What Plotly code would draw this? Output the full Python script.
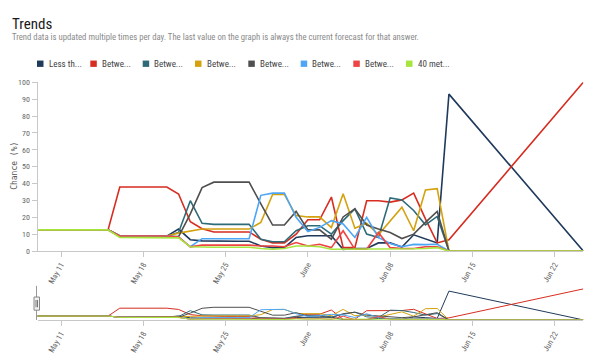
import pandas as pd
import plotly.graph_objects as go

# ---- data ----
dates = [d.strftime("%Y-%m-%d") for d in pd.date_range("2020-05-09", "2020-06-13", freq="D")] + ["2020-06-24 10:19"]

series_names = ["Less th...", "Betwe...", "Betwe...", "Betwe...", "Betwe...", "Betwe...", "Betwe...", "40 met..."]
series_colors = ["#203a5c", "#d62d20", "#2e6b78", "#d4a20e", "#4f4f4f", "#4da6f5", "#ee4444", "#a6e63c"]

navy = [12.5]*7 + [8.85]*5 + [13, 6.7, 6, 5.8, 5.8, 5.8, 5.8, 3, 2, 2, 8, 9, 9, 9, 1, 1.5, 1.5, 4.8, 4.8, 2.3, 9.6, 7.4, 4.8, 93, 0]
red = [12.5]*7 + [37.9]*5 + [33.8, 17.3, 13.2, 11.3, 11.3, 11.3, 11.3, 7, 4.8, 4.8, 10, 18.5, 18.5, 32, 2, 2, 29.8, 29.8, 29, 30.3, 34.3, 19, 4.8, 6.7, 100]
teal = [12.5]*7 + [8.85]*5 + [11, 29.8, 16.4, 15.8, 15.8, 15.8, 15.8, 7, 5.5, 5.5, 12, 15, 15, 10, 18, 25, 10, 8, 31.5, 30.3, 24, 15.5, 20.5, 0, 0]
gold = [12.5]*7 + [8.85]*5 + [10.6, 11.6, 13, 13, 13, 13, 13, 17, 33.5, 33.5, 21, 20.2, 20.2, 13.9, 34, 13.5, 16.5, 9.6, 18, 26, 12, 36.2, 37, 0, 0]
grey = [12.5]*7 + [8.85]*5 + [8.5, 22, 37.6, 40.8, 40.8, 40.8, 40.8, 28, 15.4, 15.4, 23.5, 12.5, 12.5, 7, 20.2, 25, 15.4, 13, 11, 7.4, 10, 17, 23.5, 0, 0]
blue = [12.5]*7 + [8.85]*5 + [8.3, 2.5, 7.3, 7.3, 7.3, 7.3, 7.3, 33, 34.3, 34.3, 20, 11.5, 14, 18, 16, 8, 20, 8, 4.4, 2.5, 3.9, 3.8, 4, 0, 0]
red2 = [12.5]*7 + [8.85]*5 + [8.3, 2.5, 3.5, 3.5, 3.5, 3.5, 3.5, 3, 3, 2.5, 5, 3, 4, 2, 12, 1, 1, 11, 2, 1.5, 1.5, 2.5, 2.5, 0, 0]
lime = [12.5]*7 + [8.1]*5 + [7.8, 2.5, 2.2, 2.2, 2.2, 2.2, 2.2, 1.5, 1, 1.5, 3, 3, 2.5, 1, 1, 1, 1, 1, 1, 1, 1.3, 1.5, 2, 0, 0]

series_values = [navy, red, teal, gold, grey, blue, red2, lime]

tick_vals = ["2020-05-11", "2020-05-18", "2020-05-25", "2020-06-01", "2020-06-08", "2020-06-15", "2020-06-22"]
tick_text = ["May 11", "May 18", "May 25", "June", "Jun 08", "Jun 15", "Jun 22"]
y_ticks = [0, 10, 20, 30, 40, 50, 60, 70, 80, 90, 100]

# ---- figure ----
W, H = 607, 362
FONT = "Liberation Sans Narrow, Roboto Condensed, Roboto, sans-serif"

def px(x):
    return x / W

def py(y):
    return 1 - y / H

fig = go.Figure()
for name, color, vals in zip(series_names, series_colors, series_values):
    fig.add_trace(go.Scatter(x=dates, y=vals, mode="lines", name=name,
                             line=dict(color=color, width=1.6), xaxis="x", yaxis="y",
                             showlegend=False, hoverinfo="skip"))
for name, color, vals in zip(series_names, series_colors, series_values):
    fig.add_trace(go.Scatter(x=dates, y=vals, mode="lines", name=name,
                             line=dict(color=color, width=1), xaxis="x2", yaxis="y2",
                             showlegend=False, hoverinfo="skip"))

xr = [dates[0], dates[-1]]
axis_common = dict(
    type="date", range=xr, tickvals=tick_vals, ticktext=tick_text, tickangle=-60,
    showgrid=False, zeroline=False, showline=True, linecolor="#c8c8c8", linewidth=1,
    ticks="outside", ticklen=5, tickcolor="#c8c8c8",
    tickfont=dict(family=FONT, size=8, color="#666666"),
)
fig.update_layout(
    width=W, height=H, margin=dict(l=0, r=0, t=0, b=0),
    paper_bgcolor="white", plot_bgcolor="white",
    xaxis=dict(domain=[px(37.5), px(583.3)], anchor="y", **axis_common),
    yaxis=dict(domain=[py(253.3), py(80.3)], range=[0, 100], tickvals=y_ticks,
               showgrid=False, zeroline=False, showline=True, linecolor="#c8c8c8",
               ticks="outside", ticklen=5, tickcolor="#c8c8c8",
               tickfont=dict(family=FONT, size=8, color="#666666")),
    xaxis2=dict(domain=[px(37.5), px(583.3)], anchor="y2", **axis_common),
    yaxis2=dict(domain=[py(324), py(289)], range=[0, 110], showticklabels=False,
                showgrid=False, zeroline=False, showline=False, ticks=""),
    showlegend=False,
)

annotations = [
    dict(text="Trends", x=px(10), y=py(20), xref="paper", yref="paper", xanchor="left",
         yanchor="middle", showarrow=False, font=dict(family=FONT, size=15, color="#1a1a1a")),
    dict(text="Trend data is updated multiple times per day. The last value on the graph is always the current forecast for that answer.",
         x=px(10), y=py(33.5), xref="paper", yref="paper", xanchor="left", yanchor="middle",
         showarrow=False, font=dict(family=FONT, size=8.7, color="#8a8a8a")),
    dict(text="Chance (%)", x=px(15), y=py(166), xref="paper", yref="paper", textangle=-90,
         xanchor="center", yanchor="middle", showarrow=False,
         font=dict(family="DejaVu Sans Mono, monospace", size=8, color="#555555")),
]
shapes = []
leg_x = [37, 90.3, 142.7, 195, 248.3, 300.7, 353.3, 406]
for i, (name, color) in enumerate(zip(series_names, series_colors)):
    x0 = leg_x[i]
    shapes.append(dict(type="rect", xref="paper", yref="paper", x0=px(x0), x1=px(x0 + 6.5),
                       y0=py(64.5), y1=py(58), fillcolor=color, line=dict(width=0)))
    annotations.append(dict(text=name, x=px(x0 + 9.5), y=py(61.3), xref="paper", yref="paper",
                            xanchor="left", yanchor="middle", showarrow=False,
                            font=dict(family=FONT, size=9, color="#444444")))
# navigator outline and handle
shapes.append(dict(type="line", xref="paper", yref="paper", x0=px(36.5), x1=px(36.5),
                   y0=py(289), y1=py(324), line=dict(color="#999999", width=1)))
shapes.append(dict(type="rect", xref="paper", yref="paper", x0=px(34), x1=px(39.5),
                   y0=py(314), y1=py(300.5), fillcolor="#f2f2f2", line=dict(color="#888888", width=1)))
shapes.append(dict(type="line", xref="paper", yref="paper", x0=px(36), x1=px(36),
                   y0=py(311), y1=py(303.5), line=dict(color="#777777", width=1)))
shapes.append(dict(type="line", xref="paper", yref="paper", x0=px(37.5), x1=px(37.5),
                   y0=py(311), y1=py(303.5), line=dict(color="#777777", width=1)))
fig.update_layout(annotations=annotations, shapes=shapes)

fig.write_html("out.html", config={"displayModeBar": False},
               post_script="document.body.style.margin='0';document.body.style.overflow='hidden';")
